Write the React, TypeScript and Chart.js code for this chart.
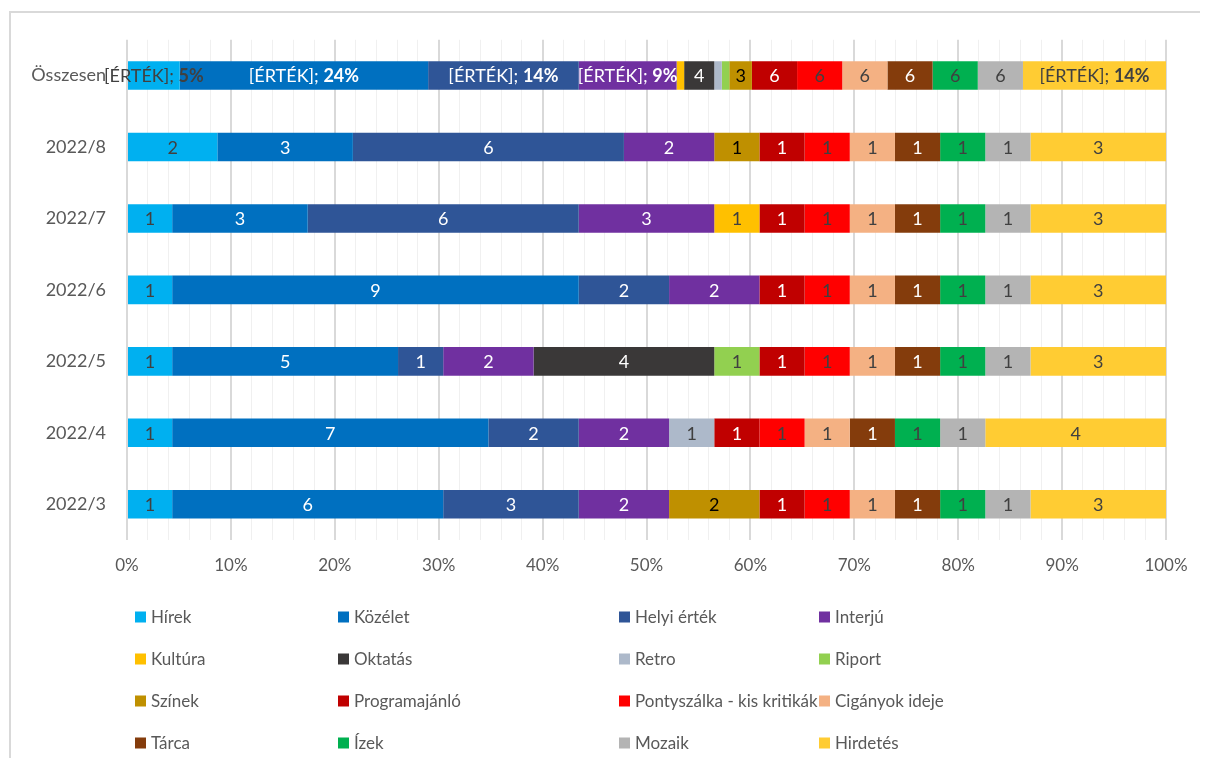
import React, { useEffect, useRef } from 'react';
import { Chart, registerables } from 'chart.js';

Chart.register(...registerables);

// ---- data ----
const categories = ['Összesen', '2022/8', '2022/7', '2022/6', '2022/5', '2022/4', '2022/3'];

const seriesNames = [
  'Hírek', 'Közélet', 'Helyi érték', 'Interjú',
  'Kultúra', 'Oktatás', 'Retro', 'Riport',
  'Színek', 'Programajánló', 'Pontyszálka - kis kritikák', 'Cigányok ideje',
  'Tárca', 'Ízek', 'Mozaik', 'Hirdetés',
];

const hirek = [7, 2, 1, 1, 1, 1, 1];
const kozelet = [33, 3, 3, 9, 5, 7, 6];
const helyiErtek = [20, 6, 6, 2, 1, 2, 3];
const interju = [13, 2, 3, 2, 2, 2, 2];
const kultura = [1, 0, 1, 0, 0, 0, 0];
const oktatas = [4, 0, 0, 0, 4, 0, 0];
const retro = [1, 0, 0, 0, 0, 1, 0];
const riport = [1, 0, 0, 0, 1, 0, 0];
const szinek = [3, 1, 0, 0, 0, 0, 2];
const programajanlo = [6, 1, 1, 1, 1, 1, 1];
const pontyszalka = [6, 1, 1, 1, 1, 1, 1];
const ciganyok = [6, 1, 1, 1, 1, 1, 1];
const tarca = [6, 1, 1, 1, 1, 1, 1];
const izek = [6, 1, 1, 1, 1, 1, 1];
const mozaik = [6, 1, 1, 1, 1, 1, 1];
const hirdetes = [19, 3, 3, 3, 3, 4, 3];

const seriesValues = [
  hirek, kozelet, helyiErtek, interju,
  kultura, oktatas, retro, riport,
  szinek, programajanlo, pontyszalka, ciganyok,
  tarca, izek, mozaik, hirdetes,
];

// series whose "Összesen" label shows "[ÉRTÉK]; x%"
const percentLabelSeries = ['Hírek', 'Közélet', 'Helyi érték', 'Interjú', 'Hirdetés'];

const xTickStep = 2;
const xMajorStep = 10;

// ---- styles ----
const seriesColors = [
  '#00B0F0', '#0070C0', '#2F5597', '#7030A0',
  '#FFC000', '#3A3838', '#ADB9CA', '#92D050',
  '#BF9000', '#C00000', '#FF0000', '#F4B183',
  '#843C0C', '#00B050', '#B4B4B4', '#FFCC33',
];
const labelColors = [
  '#404040', '#FFFFFF', '#FFFFFF', '#FFFFFF',
  '#404040', '#FFFFFF', '#404040', '#404040',
  '#000000', '#FFFFFF', '#404040', '#404040',
  '#FFFFFF', '#404040', '#404040', '#404040',
];

const FONT = 'Lato, "Open Sans", sans-serif';
const TEXT = '#595959';
const LABEL_SIZE = 18;

const totals = categories.map((_, j) => seriesValues.reduce((s, arr) => s + arr[j], 0));

const dataLabelPlugin = {
  id: 'dataLabels',
  afterDatasetsDraw(chart: any) {
    const ctx = chart.ctx;
    ctx.save();
    ctx.textBaseline = 'middle';
    const reg = `${LABEL_SIZE}px ${FONT}`;
    const bold = `bold ${LABEL_SIZE}px ${FONT}`;
    chart.data.datasets.forEach((ds: any, i: number) => {
      const meta = chart.getDatasetMeta(i);
      meta.data.forEach((el: any, j: number) => {
        const raw = seriesValues[i][j];
        if (!raw) return;
        const w = Math.abs(el.x - el.base);
        if (w < 15) return;
        const cx = (el.x + el.base) / 2;
        const cy = el.y + 1;
        ctx.fillStyle = labelColors[i];
        if (j === 0 && percentLabelSeries.includes(seriesNames[i])) {
          const p1 = '[ÉRTÉK]; ';
          const p2 = Math.round((raw / totals[j]) * 100) + '%';
          ctx.font = reg;
          const w1 = ctx.measureText(p1).width;
          ctx.font = bold;
          const w2 = ctx.measureText(p2).width;
          const sx = cx - (w1 + w2) / 2;
          ctx.textAlign = 'left';
          ctx.font = reg;
          ctx.fillText(p1, sx, cy);
          ctx.font = bold;
          ctx.fillText(p2, sx + w1, cy);
        } else {
          ctx.font = reg;
          ctx.textAlign = 'center';
          ctx.fillText(String(raw), cx, cy);
        }
      });
    });
    ctx.restore();
  },
};

const gridLegendPlugin = {
  id: 'gridLegend',
  afterDraw(chart: any) {
    const ctx = chart.ctx;
    const colX = [127, 330, 611, 811];
    const rowY = [609, 651, 693, 735];
    ctx.save();
    ctx.font = `17px ${FONT}`;
    ctx.textBaseline = 'middle';
    ctx.textAlign = 'left';
    chart.data.datasets.forEach((ds: any, i: number) => {
      const x = colX[i % 4];
      const y = rowY[Math.floor(i / 4)];
      ctx.fillStyle = ds.backgroundColor;
      ctx.fillRect(x, y - 5.5, 11, 11);
      ctx.fillStyle = TEXT;
      ctx.fillText(ds.label, x + 16, y + 1);
    });
    ctx.restore();
  },
};

function isMajor(v: number) {
  const r = Math.round(v);
  return Math.abs(v - r) < 1e-6 && r % xMajorStep === 0;
}

export default function App() {
  const ref = useRef<HTMLCanvasElement | null>(null);

  useEffect(() => {
    let chart: any = null;
    let cancelled = false;
    const make = () => {
      if (cancelled || !ref.current) return;
      chart = new Chart(ref.current, {
        type: 'bar',
        data: {
          labels: categories,
          datasets: seriesNames.map((name, i) => ({
            label: name,
            data: seriesValues[i].map((v, j) => (v / totals[j]) * 100),
            backgroundColor: seriesColors[i],
            borderWidth: 0,
            barPercentage: 0.4,
            categoryPercentage: 1,
          })),
        },
        options: {
          indexAxis: 'y',
          responsive: false,
          animation: false,
          layout: { padding: { top: 31.5, right: 42, left: 0, bottom: 0 } },
          plugins: { legend: { display: false }, tooltip: { enabled: false } },
          scales: {
            x: {
              stacked: true,
              min: 0,
              max: 100,
              border: { display: false },
              grid: {
                drawTicks: false,
                color: (c: any) => (isMajor(c.tick.value) ? '#D9D9D9' : '#F0F0F0'),
                lineWidth: (c: any) => (isMajor(c.tick.value) ? 2 : 1),
              },
              ticks: {
                stepSize: xTickStep,
                autoSkip: false,
                maxRotation: 0,
                padding: 15,
                color: TEXT,
                font: { family: FONT, size: 17 },
                callback: (v: any) => (isMajor(Number(v)) ? Math.round(Number(v)) + '%' : ''),
              },
              afterFit: (s: any) => { s.height = 218; },
            },
            y: {
              stacked: true,
              border: { display: false },
              grid: { display: false, drawTicks: false },
              ticks: {
                padding: 21,
                color: TEXT,
                font: { family: FONT, size: 18 },
              },
              afterFit: (s: any) => { s.width = 119; },
            },
          },
        },
        plugins: [dataLabelPlugin, gridLegendPlugin],
      } as any);
    };
    const fontsReady = (document as any).fonts
      ? Promise.all([
          (document as any).fonts.load(`16px Lato`),
          (document as any).fonts.load(`bold 16px Lato`),
        ]).catch(() => null)
      : Promise.resolve(null);
    fontsReady.then(make);
    return () => {
      cancelled = true;
      if (chart) chart.destroy();
    };
  }, []);

  return (
    <div style={{ position: 'relative', width: 1200, height: 750, overflow: 'hidden' }}>
      <div
        style={{
          position: 'absolute', left: 1, top: 3, width: 1400, height: 1000,
          borderLeft: '2px solid #D9D9D9', borderTop: '2px solid #D9D9D9',
        }}
      />
      <canvas ref={ref} width={1200} height={750} style={{ position: 'absolute', left: 0, top: 0 }} />
    </div>
  );
}
